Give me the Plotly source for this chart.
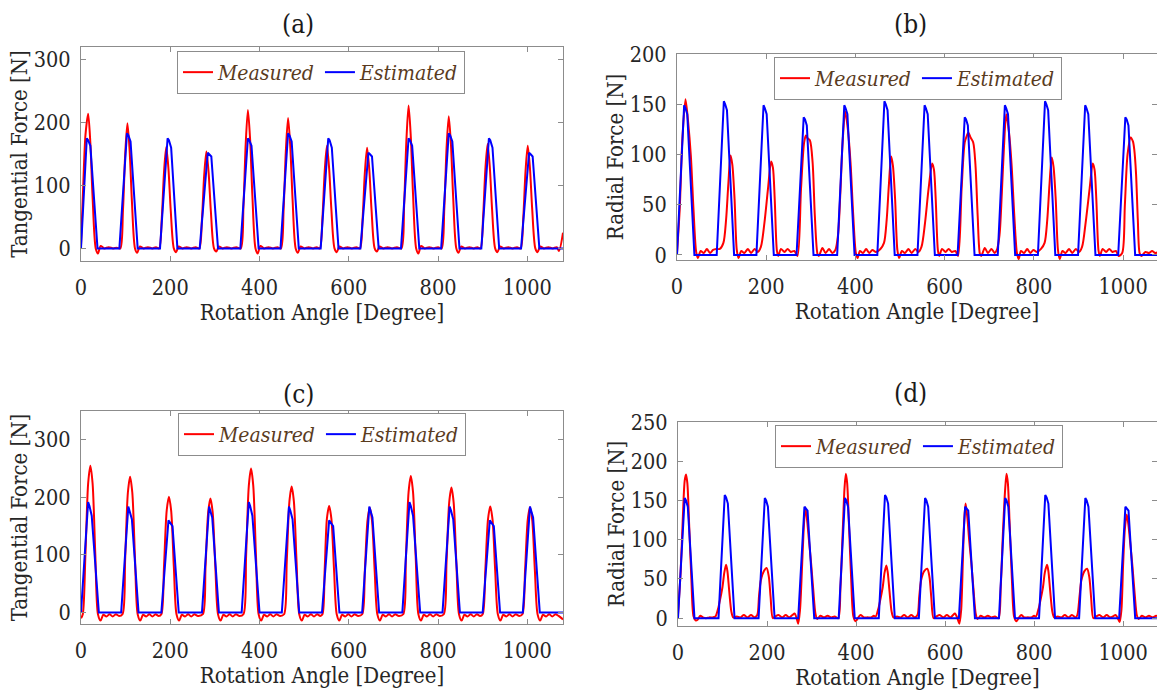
import plotly.graph_objects as go

# ---------------- data ----------------
x_ticks = [0, 200, 400, 600, 800, 1000]
x_tick_text = ["0", "200", "400", "600", "800", "1000"]

# (a) tangential force
a_meas_x = [0, 5, 10, 16, 21, 26, 33, 38, 44, 52, 62, 72, 80,
            88, 94, 99, 104, 109, 114, 121, 126, 132, 140, 150, 160, 168,
            175, 181, 186, 191, 196, 201, 208, 213, 219, 227, 237, 247, 257,
            265, 271, 276, 281, 286, 291, 298, 303, 309, 317, 327, 337, 348,
            358, 364, 369, 374, 379, 384, 391, 396, 402, 410, 420, 430, 440,
            448, 454, 459, 464, 469, 474, 481, 486, 492, 500, 510, 520, 528,
            535, 541, 546, 551, 556, 561, 568, 573, 579, 587, 597, 607, 617,
            625, 631, 636, 641, 646, 651, 658, 663, 669, 677, 687, 697, 708,
            718, 724, 729, 734, 739, 744, 751, 756, 762, 770, 780, 790, 800,
            808, 814, 819, 824, 829, 834, 841, 846, 852, 860, 870, 880, 888,
            895, 901, 906, 911, 916, 921, 928, 933, 939, 947, 957, 967, 977,
            985, 991, 996, 1001, 1006, 1011, 1018, 1023, 1029, 1037, 1047, 1057, 1066, 1071, 1080]
a_meas_y = [5, 100, 180, 214, 167, 81, 0, -8, 4, 0, 2, 0, 1,
            0, 60, 149, 199, 155, 76, 0, -7, 3, 0, 2, 0, 2,
            0, 48, 121, 161, 126, 61, 0, -6, 3, 0, 2, 0, 2,
            0, 46, 116, 154, 120, 59, 0, -5, 3, 0, 2, 0, 2,
            0, 66, 165, 220, 172, 84, 0, -8, 4, 0, 2, 0, 2,
            0, 62, 155, 207, 161, 79, 0, -7, 3, 0, 2, 0, 2,
            0, 49, 122, 163, 127, 62, 0, -6, 3, 0, 2, 0, 2,
            0, 48, 120, 160, 125, 61, 0, -5, 3, 0, 2, 0, 2,
            0, 68, 170, 227, 177, 86, 0, -8, 4, 0, 2, 0, 2,
            0, 63, 158, 210, 164, 80, 0, -7, 3, 0, 2, 0, 2,
            0, 50, 125, 166, 129, 63, 0, -6, 3, 0, 2, 0, 2,
            0, 49, 122, 163, 127, 62, 0, -6, 3, 0, 2, 0, 2, -4, 25]
a_est_x = [0, 13, 16, 21, 37, 86, 103, 106, 111, 127, 177, 194, 197, 202, 216,
           266, 284, 287, 292, 307, 357, 374, 377, 382, 398, 447, 464, 467, 472, 488,
           537, 554, 557, 562, 577, 626, 644, 647, 652, 667, 717, 734, 737, 742, 758,
           807, 824, 827, 832, 848, 897, 914, 917, 922, 937, 986, 1004, 1007, 1012, 1027, 1080]
a_est_y = [0, 175, 172, 163, 0, 0, 183, 180, 170, 0, 0, 175, 172, 160, 0,
           0, 152, 150, 146, 0, 0, 175, 172, 163, 0, 0, 183, 180, 170, 0,
           0, 175, 172, 160, 0, 0, 152, 150, 146, 0, 0, 175, 172, 163, 0,
           0, 183, 180, 170, 0, 0, 175, 172, 160, 0, 0, 152, 150, 146, 0, 0]

# (b) radial force
b_meas_x = [0, 6, 12, 19, 25, 31, 37, 43, 47, 53, 60, 67, 74, 81, 88,
            96, 104, 110, 115, 120, 124, 129, 134, 138, 144, 151, 159, 166, 174,
            181, 188, 196, 204, 211, 215, 219, 224, 227, 233, 241, 248, 255, 263,
            270, 278, 285, 289, 293, 298, 304, 309, 315, 318, 326, 333, 341, 348,
            355, 361, 366, 371, 377, 383, 389, 395, 401, 405, 410, 417, 424, 431, 438, 446,
            456, 464, 470, 475, 480, 484, 489, 494, 498, 504, 511, 519, 526, 534, 541,
            548, 556, 564, 572, 576, 580, 585, 588, 594, 602, 609, 616, 624, 630,
            638, 645, 650, 653, 658, 664, 669, 674, 679, 682, 690, 697, 705, 712,
            717, 723, 728, 733, 738, 744, 750, 756, 762, 766, 771, 778, 785, 792, 799, 807,
            816, 824, 830, 835, 840, 844, 849, 854, 858, 864, 871, 879, 886, 894, 901,
            908, 916, 925, 932, 936, 940, 945, 948, 954, 962, 969, 976, 984, 990,
            998, 1004, 1010, 1017, 1022, 1025, 1029, 1033, 1037, 1041, 1050, 1058, 1065, 1072, 1080]
b_meas_y = [2, 45, 115, 155, 132, 99, 45, 3, -3, 4, 2, 6, 2, 5, 6,
            6, 12, 35, 70, 99, 90, 56, 5, -3, 4, 2, 6, 2, 6,
            3, 8, 32, 66, 93, 87, 56, 4, -1, 6, 3, 6, 3, 4,
            -1, 66, 112, 119, 116, 114, 92, 39, 1, -1, 7, 2, 6, 2,
            5, 20, 60, 110, 143, 125, 92, 40, 2, -3, 4, 2, 6, 2, 5, 3,
            6, 12, 35, 70, 98, 89, 55, 5, -3, 4, 2, 6, 2, 6, 3,
            8, 32, 66, 91, 85, 55, 4, -1, 6, 3, 6, 3, 4, -1,
            66, 112, 119, 122, 117, 112, 90, 39, 1, -1, 7, 2, 6, 2,
            5, 20, 60, 108, 140, 123, 90, 40, 2, -4, 4, 2, 6, 2, 5, 3,
            6, 12, 35, 70, 97, 88, 55, 5, -4, 4, 2, 6, 2, 6, 3,
            8, 32, 66, 91, 85, 55, 4, -1, 6, 3, 6, 3, 4, -1,
            2, 50, 100, 117, 113, 105, 81, 35, 2, -1, 3, 2, 4, 2, 3]
b_est_x = [0, 16, 19, 23, 39, 89, 105, 108, 112, 128, 178, 194, 197, 201, 217,
           268, 284, 287, 291, 306, 359, 375, 378, 382, 398, 449, 465, 468, 472, 488,
           539, 555, 558, 562, 578, 629, 645, 648, 652, 667, 719, 735, 738, 742, 758,
           809, 825, 828, 832, 848, 899, 915, 918, 922, 938, 989, 1005, 1008, 1012, 1027, 1080]
b_est_y = [0, 149, 146, 140, 0, 0, 153, 150, 144, 0, 0, 149, 146, 140, 0,
           0, 137, 135, 129, 0, 0, 149, 146, 140, 0, 0, 153, 150, 144, 0,
           0, 149, 146, 140, 0, 0, 137, 135, 129, 0, 0, 149, 146, 140, 0,
           0, 153, 150, 144, 0, 0, 149, 146, 140, 0, 0, 137, 135, 129, 0, 0]

# (c) tangential force
c_meas_x = [0, 4, 10, 16, 21, 26, 32, 38, 44, 50, 57, 64, 71, 78, 85,
            93, 99, 105, 110, 115, 121, 127, 133, 139, 146, 153, 160, 167, 174,
            180, 186, 192, 197, 202, 208, 214, 220, 226, 233, 240, 247, 254, 262,
            273, 279, 285, 290, 295, 301, 307, 313, 319, 326, 333, 340, 347, 355,
            364, 370, 376, 381, 386, 392, 398, 404, 410, 417, 424, 431, 438, 446,
            455, 461, 467, 472, 477, 483, 489, 495, 501, 508, 515, 522, 529, 536,
            541, 546, 551, 556, 561, 567, 573, 579, 585, 592, 599, 606, 613, 621,
            630, 636, 642, 647, 652, 658, 664, 670, 676, 683, 690, 697, 704, 712,
            722, 728, 734, 739, 744, 750, 756, 762, 768, 775, 782, 789, 796, 804,
            813, 819, 825, 830, 835, 841, 847, 853, 859, 866, 873, 880, 887, 894,
            900, 906, 912, 917, 922, 928, 934, 940, 946, 953, 960, 967, 974, 982,
            989, 995, 1001, 1006, 1011, 1017, 1023, 1029, 1035, 1042, 1049, 1056, 1063, 1070, 1080]
c_meas_y = [-10, -3, 102, 224, 255, 224, 102, -3, -14, -4, -7, -3, -7, -3, -6,
            -3, 94, 208, 236, 208, 94, -3, -14, -4, -7, -3, -7, -3, -6,
            -3, 80, 177, 201, 177, 80, -3, -14, -4, -7, -3, -7, -3, -6,
            -3, 79, 174, 198, 174, 79, -3, -14, -4, -7, -3, -7, -3, -6,
            -3, 100, 220, 250, 220, 100, -3, -14, -4, -7, -3, -7, -3, -6,
            -3, 88, 193, 219, 193, 88, -3, -14, -4, -7, -3, -7, -3, -6,
            -3, 74, 163, 185, 163, 74, -3, -14, -4, -7, -3, -7, -3, -6,
            -3, 73, 160, 182, 160, 73, -3, -14, -4, -7, -3, -7, -3, -6,
            -3, 95, 209, 237, 209, 95, -3, -14, -4, -7, -3, -7, -3, -6,
            -3, 87, 191, 217, 191, 87, -3, -14, -4, -7, -3, -7, -3, -6,
            -3, 74, 162, 184, 162, 74, -3, -14, -4, -7, -3, -7, -3, -6,
            -3, 73, 161, 183, 161, 73, -3, -14, -4, -7, -3, -7, -3, -6, -12]
c_est_x = [0, 16, 19, 24, 40, 90, 106, 109, 114, 129, 180, 196, 199, 205, 219,
           271, 287, 290, 294, 309, 360, 376, 379, 384, 400, 450, 466, 469, 474, 489,
           540, 556, 559, 565, 579, 630, 646, 649, 653, 668, 720, 736, 739, 744, 760,
           810, 826, 829, 834, 849, 900, 916, 919, 925, 939, 990, 1006, 1009, 1013, 1028, 1080]
c_est_y = [0, 192, 185, 168, 0, 0, 184, 177, 162, 0, 0, 160, 156, 150, 0,
           0, 184, 177, 165, 0, 0, 192, 185, 168, 0, 0, 184, 177, 162, 0,
           0, 160, 156, 150, 0, 0, 184, 177, 165, 0, 0, 192, 185, 168, 0,
           0, 184, 177, 162, 0, 0, 160, 156, 150, 0, 0, 184, 177, 165, 0, 0]

# (d) radial force
d_meas_x = [0, 6, 11, 15, 18, 21, 25, 30, 35, 40, 44, 50, 56, 63, 70,
            78, 84, 90, 95, 100, 104, 108, 111, 115, 120, 124, 132, 140, 148, 156, 164,
            172, 178, 182, 186, 193, 199, 204, 208, 213, 218, 226, 234, 242, 250, 257, 262, 266, 270,
            274, 279, 283, 286, 290, 294, 299, 304, 309, 313, 320, 328, 336, 344, 352,
            360, 365, 370, 374, 377, 380, 384, 389, 394, 399, 404, 410, 418, 426, 434,
            440, 444, 450, 455, 460, 464, 468, 471, 475, 480, 484, 492, 500, 508, 516, 524,
            532, 538, 542, 546, 553, 560, 565, 569, 574, 580, 588, 596, 604, 612, 618, 622, 627, 632,
            636, 640, 643, 646, 650, 654, 659, 664, 669, 673, 680, 688, 696, 704, 712,
            720, 725, 730, 735, 738, 741, 745, 750, 755, 760, 765, 771, 778, 786, 794,
            800, 804, 810, 815, 820, 824, 829, 832, 836, 841, 845, 853, 861, 869, 877, 885, 893,
            897, 902, 906, 913, 919, 924, 928, 933, 939, 947, 955, 963, 971, 979, 983, 987, 992,
            996, 1000, 1004, 1008, 1012, 1016, 1021, 1026, 1031, 1035, 1042, 1050, 1058, 1066, 1074, 1080]
d_meas_y = [5, 60, 130, 175, 183, 172, 120, 50, 2, -3, -2, 3, 1, 0, 1,
            1, 2, 12, 25, 40, 58, 68, 60, 35, 8, 1, 2, 1, 4, 1, 4,
            1, 4, 28, 48, 60, 64, 53, 27, 0, 2, 4, 1, 4, 1, 4, 6, 1, -7,
            10, 70, 120, 141, 125, 100, 70, 35, 5, -1, 3, 1, 3, 1, 2,
            0, 40, 110, 165, 184, 172, 120, 50, 2, -4, 0, 4, 1, 1, 1,
            3, 2, 12, 25, 40, 58, 67, 59, 35, 8, 1, 2, 1, 4, 1, 4,
            1, 4, 28, 48, 60, 63, 52, 26, 0, 2, 4, 1, 4, 1, 4, 6, 1, -7,
            10, 75, 125, 146, 128, 100, 70, 35, 5, -1, 3, 1, 3, 1, 2,
            0, 40, 110, 165, 184, 172, 120, 50, 2, -4, 0, 4, 1, 1, 1,
            3, 2, 12, 25, 40, 58, 68, 60, 35, 8, 1, 2, 1, 4, 1, 4, 1,
            4, 28, 48, 60, 63, 52, 26, 0, 2, 4, 1, 4, 1, 3, 4, 1, -5,
            10, 70, 115, 132, 118, 95, 65, 30, 3, -1, 3, 1, 3, 1, 3, 2]
d_est_x = [0, 15, 18, 22, 37, 91, 105, 108, 112, 127, 181, 195, 198, 202, 217,
           270, 284, 287, 291, 306, 361, 375, 378, 382, 397, 451, 465, 468, 472, 487,
           541, 555, 558, 562, 577, 631, 645, 648, 652, 667, 721, 735, 738, 742, 757,
           811, 825, 828, 832, 847, 901, 915, 918, 922, 937, 991, 1005, 1008, 1012, 1027, 1080]
d_est_y = [0, 153, 150, 142, 0, 0, 157, 154, 146, 0, 0, 153, 150, 142, 0,
           0, 142, 140, 137, 0, 0, 153, 150, 142, 0, 0, 157, 154, 146, 0,
           0, 153, 150, 142, 0, 0, 142, 140, 137, 0, 0, 153, 150, 142, 0,
           0, 157, 154, 146, 0, 0, 153, 150, 142, 0, 0, 142, 140, 137, 0, 0]

panel_titles = ["(a)", "(b)", "(c)", "(d)"]
y_titles = ["Tangential Force [N]", "Radial Force [N]", "Tangential Force [N]", "Radial Force [N]"]
x_title = "Rotation Angle [Degree]"
y_ranges = [[-20, 320], [-5, 200], [-20, 350], [-10, 250]]
y_tickvals = [[0, 100, 200, 300], [0, 50, 100, 150, 200],
              [0, 100, 200, 300], [0, 50, 100, 150, 200, 250]]
series_names = ["Measured", "Estimated"]

# ---------------- figure ----------------
W, H = 1157, 690
FONT = "DejaVu Serif Condensed, DejaVu Serif, serif"
TXT = "#262626"
AXC = "#8c8c8c"
RED, BLUE = "#ff0000", "#0000ff"

# plot-area boxes in pixels: (left, right, top, bottom)
boxes = [(81, 563, 47, 261), (677, 1157, 54, 260), (81, 563, 411, 624), (678, 1157, 422, 626)]
x_ranges = [[0, 1080], [0, 1076], [0, 1080], [0, 1076]]
legend_center = [(321, 51), (918, 57), (322, 413), (919, 425)]
title_pos = [(298, 24), (910, 24), (298, 394), (910, 393)]

data = [(a_meas_x, a_meas_y, a_est_x, a_est_y),
        (b_meas_x, b_meas_y, b_est_x, b_est_y),
        (c_meas_x, c_meas_y, c_est_x, c_est_y),
        (d_meas_x, d_meas_y, d_est_x, d_est_y)]

fig = go.Figure()
layout = dict(width=W, height=H, margin=dict(l=0, r=0, t=0, b=0, autoexpand=False),
              paper_bgcolor="white", plot_bgcolor="white",
              font=dict(family=FONT, color=TXT), annotations=[])

for i in range(4):
    k = "" if i == 0 else str(i + 1)
    lg = "legend" if i == 0 else "legend" + str(i + 1)
    mx, my, ex, ey = data[i]
    fig.add_trace(go.Scatter(x=mx, y=my, mode="lines", name="<i>" + series_names[0] + "</i>",
                             line=dict(color=RED, width=2, shape="spline", smoothing=0.8),
                             xaxis="x" + k, yaxis="y" + k, legend=lg))
    fig.add_trace(go.Scatter(x=ex, y=ey, mode="lines", name="<i>" + series_names[1] + "</i>",
                             line=dict(color=BLUE, width=2),
                             xaxis="x" + k, yaxis="y" + k, legend=lg))
    l, r, t, b = boxes[i]
    common = dict(showline=True, linecolor=AXC, linewidth=1, mirror="ticks",
                  ticks="inside", ticklen=5, tickwidth=1, tickcolor=AXC,
                  showgrid=False, zeroline=False, automargin=False,
                  tickfont=dict(family=FONT, size=21.5, color=TXT))
    layout["xaxis" + k] = dict(domain=[l / W, r / W], range=x_ranges[i], anchor="y" + k,
                               tickvals=x_ticks, ticktext=x_tick_text, ticklabelstandoff=7,
                               title=dict(text=x_title, font=dict(family=FONT, size=22, color=TXT), standoff=2),
                               **common)
    layout["yaxis" + k] = dict(domain=[1 - b / H, 1 - t / H], range=y_ranges[i], anchor="x" + k,
                               tickvals=y_tickvals[i], ticklabelstandoff=5,
                               title=dict(text=y_titles[i], font=dict(family=FONT, size=22, color=TXT), standoff=0),
                               **common)
    lx, ly = legend_center[i]
    layout[lg] = dict(x=lx / W, y=1 - ly / H, xanchor="center", yanchor="top", orientation="h",
                      bgcolor="white", bordercolor=AXC, borderwidth=1,
                      font=dict(family=FONT, size=21, color="#5a3b1e"),
                      itemwidth=30, tracegroupgap=0)
    tx, ty = title_pos[i]
    layout["annotations"].append(dict(text=panel_titles[i], x=tx / W, y=1 - ty / H,
                                      xref="paper", yref="paper", xanchor="center", yanchor="middle",
                                      showarrow=False, font=dict(family=FONT, size=26, color="#1a1a1a")))

fig.update_layout(**layout)
fig.write_html("out.html", config={"displayModeBar": False},
               post_script="document.body.style.margin='0';document.body.style.overflow='hidden';")
